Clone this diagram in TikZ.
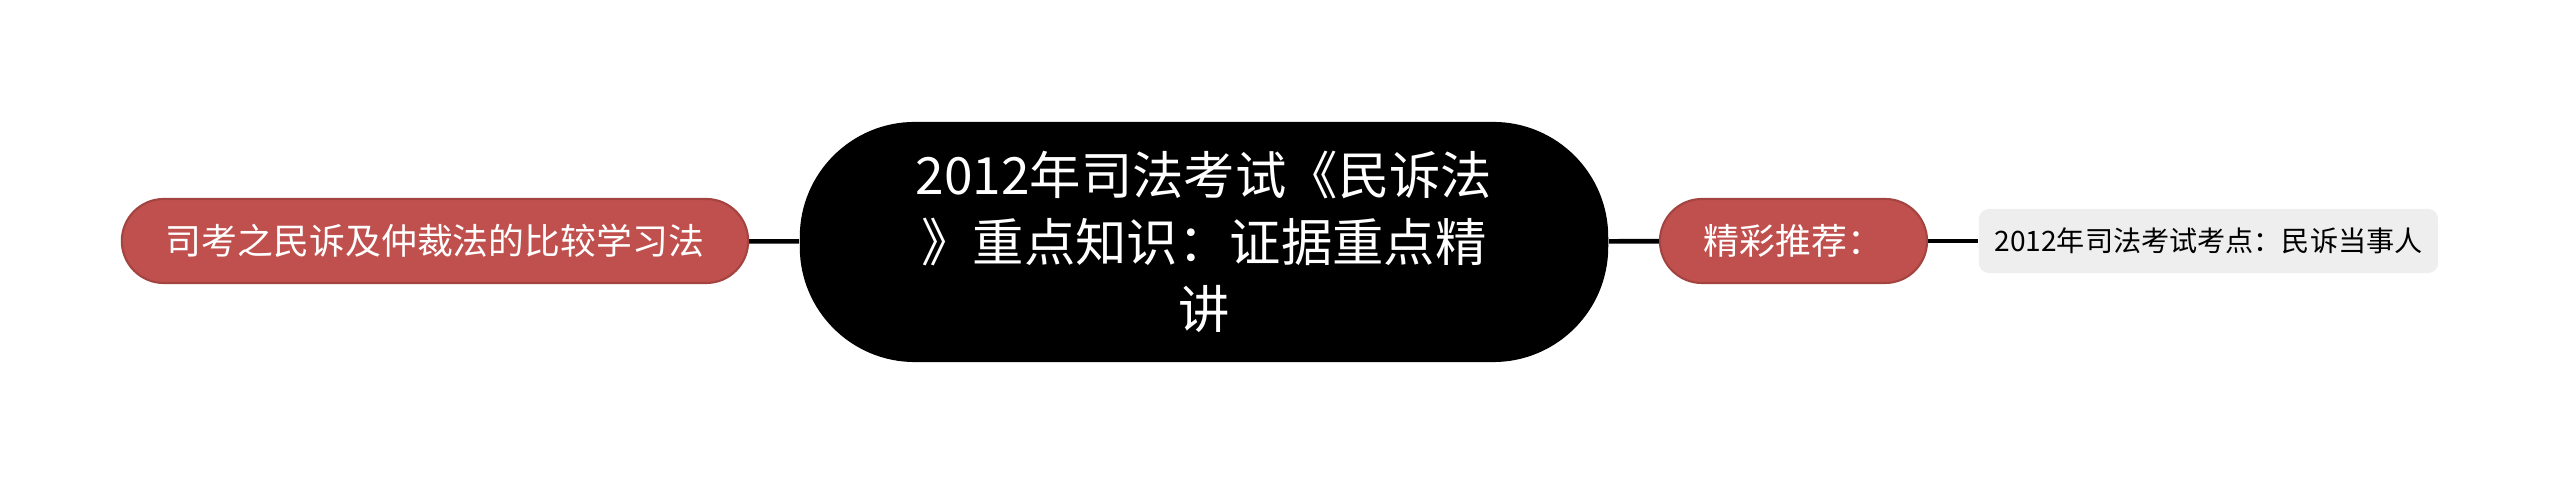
\documentclass[tikz,border=0pt]{standalone}
\usepackage{fontspec}
\setmainfont{Noto Sans CJK SC}
\usetikzlibrary{positioning}
\definecolor{topicred}{HTML}{C0504D}
\definecolor{leafgray}{HTML}{EEEEEE}
\tikzset{
  rootbox/.style={fill=black, text=white, rounded corners=1.15cm,
    minimum width=8.08cm, minimum height=2.4cm, align=center,
    font=\fontsize{14.6pt}{19pt}\selectfont, inner sep=0pt},
  topicbox/.style={fill=topicred, draw=topicred!85!black, line width=0.6pt,
    text=white, rounded corners=0.42cm, minimum height=0.84cm,
    font=\fontsize{10.2pt}{12pt}\selectfont, inner sep=0pt},
  leafbox/.style={fill=leafgray, rounded corners=0.1cm, minimum height=0.64cm,
    font=\fontsize{8pt}{10pt}\selectfont, inner sep=0pt},
  link/.style={line width=1.3pt, black}
}
\begin{document}
\begin{tikzpicture}[x=0.01cm, y=-0.01cm]
      \useasboundingbox (0, 0) rectangle (2560, 483);

      \node [rootbox] (root) at (1204, 242) {2012年司法考试《民诉法\\》重点知识：证据重点精\\讲};

      \node [topicbox, minimum width=6.26cm] (left) at (435, 241) {司考之民诉及仲裁法的比较学习法};
      \node [topicbox, minimum width=2.67cm] (tuijian) at (1793.5, 241) {精彩推荐：};
      \node [leafbox, minimum width=4.59cm] (leaf) at (2208.5, 241) {2012年司法考试考点：民诉当事人};

      \draw [link] (left) -- (root);
      \draw [link] (root) -- (tuijian);
      \draw [link] (tuijian) -- (leaf);
    \end{tikzpicture}
\end{document}
